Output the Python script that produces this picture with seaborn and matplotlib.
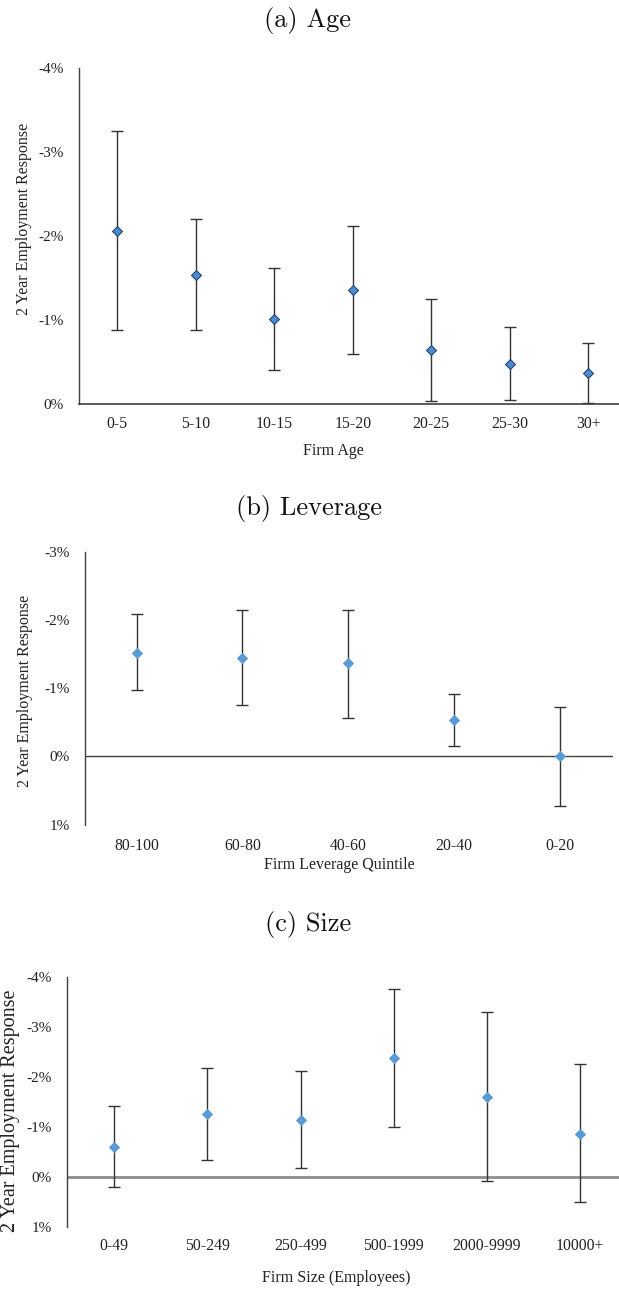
import matplotlib
matplotlib.use("Agg")
import matplotlib.pyplot as plt
import seaborn as sns
import pandas as pd

# ---- data: 2-year employment response (%), point estimate and CI bounds ----
age_cats = ["0-5", "5-10", "10-15", "15-20", "20-25", "25-30", "30+"]
age_est = [-2.06, -1.53, -1.01, -1.36, -0.64, -0.48, -0.37]
age_lo = [-3.25, -2.20, -1.62, -2.12, -1.25, -0.92, -0.73]
age_hi = [-0.88, -0.88, -0.41, -0.60, -0.03, -0.05, -0.01]
age_yticks = [0, -1, -2, -3, -4]

lev_cats = ["80-100", "60-80", "40-60", "20-40", "0-20"]
lev_est = [-1.52, -1.44, -1.37, -0.53, 0.00]
lev_lo = [-2.08, -2.15, -2.15, -0.91, -0.72]
lev_hi = [-0.98, -0.75, -0.57, -0.16, 0.73]
lev_yticks = [1, 0, -1, -2, -3]

size_cats = ["0-49", "50-249", "250-499", "500-1999", "2000-9999", "10000+"]
size_est = [-0.60, -1.26, -1.14, -2.37, -1.60, -0.86]
size_lo = [-1.42, -2.17, -2.11, -3.75, -3.29, -2.25]
size_hi = [0.20, -0.34, -0.17, -0.99, 0.09, 0.51]
size_yticks = [1, 0, -1, -2, -3, -4]

sns.set_style("white")
plt.rcParams["font.family"] = ["Liberation Serif", "DejaVu Serif"]
plt.rcParams["axes.unicode_minus"] = False

W, H = 619, 1289
fig = plt.figure(figsize=(W / 100, H / 100), dpi=100)


def px_axes(left, top, right, bottom):
    return fig.add_axes([left / W, 1 - bottom / H, (right - left) / W, (bottom - top) / H])


def panel(ax, cats, est, lo, hi, yticks, ylim, xlim, face, edge, zero_line, xpad):
    df = pd.DataFrame({"group": cats, "est": est, "lo": lo, "hi": hi})
    err = [df["est"] - df["lo"], df["hi"] - df["est"]]
    ax.errorbar(df["group"], df["est"], yerr=err, fmt="none", ecolor="#333333",
                elinewidth=1.0, capsize=4.5, capthick=1.0, zorder=2)
    sns.scatterplot(data=df, x="group", y="est", marker="D", s=26, color=face,
                    edgecolor=edge, linewidth=0.7, zorder=3, ax=ax)
    ax.set_xlim(*xlim)
    ax.set_ylim(*ylim)
    ax.set_yticks(yticks)
    ax.set_yticklabels([f"{t}%" for t in yticks])
    ax.tick_params(axis="y", length=0, pad=11, labelsize=11, colors="#222222")
    ax.tick_params(axis="x", length=0, pad=xpad, labelsize=11.3, colors="#222222")
    ax.set_xlabel("")
    ax.set_ylabel("")
    for side in ("top", "right"):
        ax.spines[side].set_visible(False)
    ax.spines["left"].set_color("#404040")
    ax.spines["left"].set_linewidth(1.0)
    if zero_line is None:
        ax.spines["bottom"].set_color("#404040")
        ax.spines["bottom"].set_linewidth(1.2)
    else:
        ax.spines["bottom"].set_visible(False)
        ax.axhline(0, color=zero_line[0], linewidth=zero_line[1], zorder=1)


# (a) Age
ax_a = px_axes(78.7, 67.5, 619, 404)
panel(ax_a, age_cats, age_est, age_lo, age_hi, age_yticks, (0, -4), (-0.492, 6.391),
      "#4a8bd0", "#1f3a5f", None, 8.3)

# (b) Leverage
ax_b = px_axes(84.7, 551.7, 613, 824.7)
panel(ax_b, lev_cats, lev_est, lev_lo, lev_hi, lev_yticks, (1, -3), (-0.491, 4.502),
      "#5b9bd5", "#5b9bd5", ("#404040", 1.0), 9.7)

# (c) Size
ax_c = px_axes(67.3, 976.7, 619, 1226.7)
panel(ax_c, size_cats, size_est, size_lo, size_hi, size_yticks, (1, -4), (-0.505, 5.421),
      "#5b9bd5", "#5b9bd5", ("#8c8c8c", 2.0), 8.3)


def ftext(x, y, s, **kw):
    fig.text(x / W, 1 - y / H, s, ha="center", va="center", **kw)


title_kw = dict(fontsize=19, family=["cmr10", "DejaVu Serif"], color="#111111")
ftext(308, 21, "(a) Age", **title_kw)
ftext(309, 508, "(b) Leverage", **title_kw)
ftext(308, 925, "(c) Size", **title_kw)

lab_kw = dict(fontsize=11.5, color="#222222")
ftext(333, 451, "Firm Age", **lab_kw)
ftext(339, 865, "Firm Leverage Quintile", **lab_kw)
ftext(336, 1278, "Firm Size (Employees)", **lab_kw)

ftext(24, 219, "2 Year Employment Response", rotation=90, **lab_kw)
ftext(25, 691, "2 Year Employment Response", rotation=90, **lab_kw)
ftext(11, 1111, "2 Year Employment Response", rotation=90, fontsize=14.5, color="#222222")

fig.savefig("out.png", dpi=100, facecolor="white")
